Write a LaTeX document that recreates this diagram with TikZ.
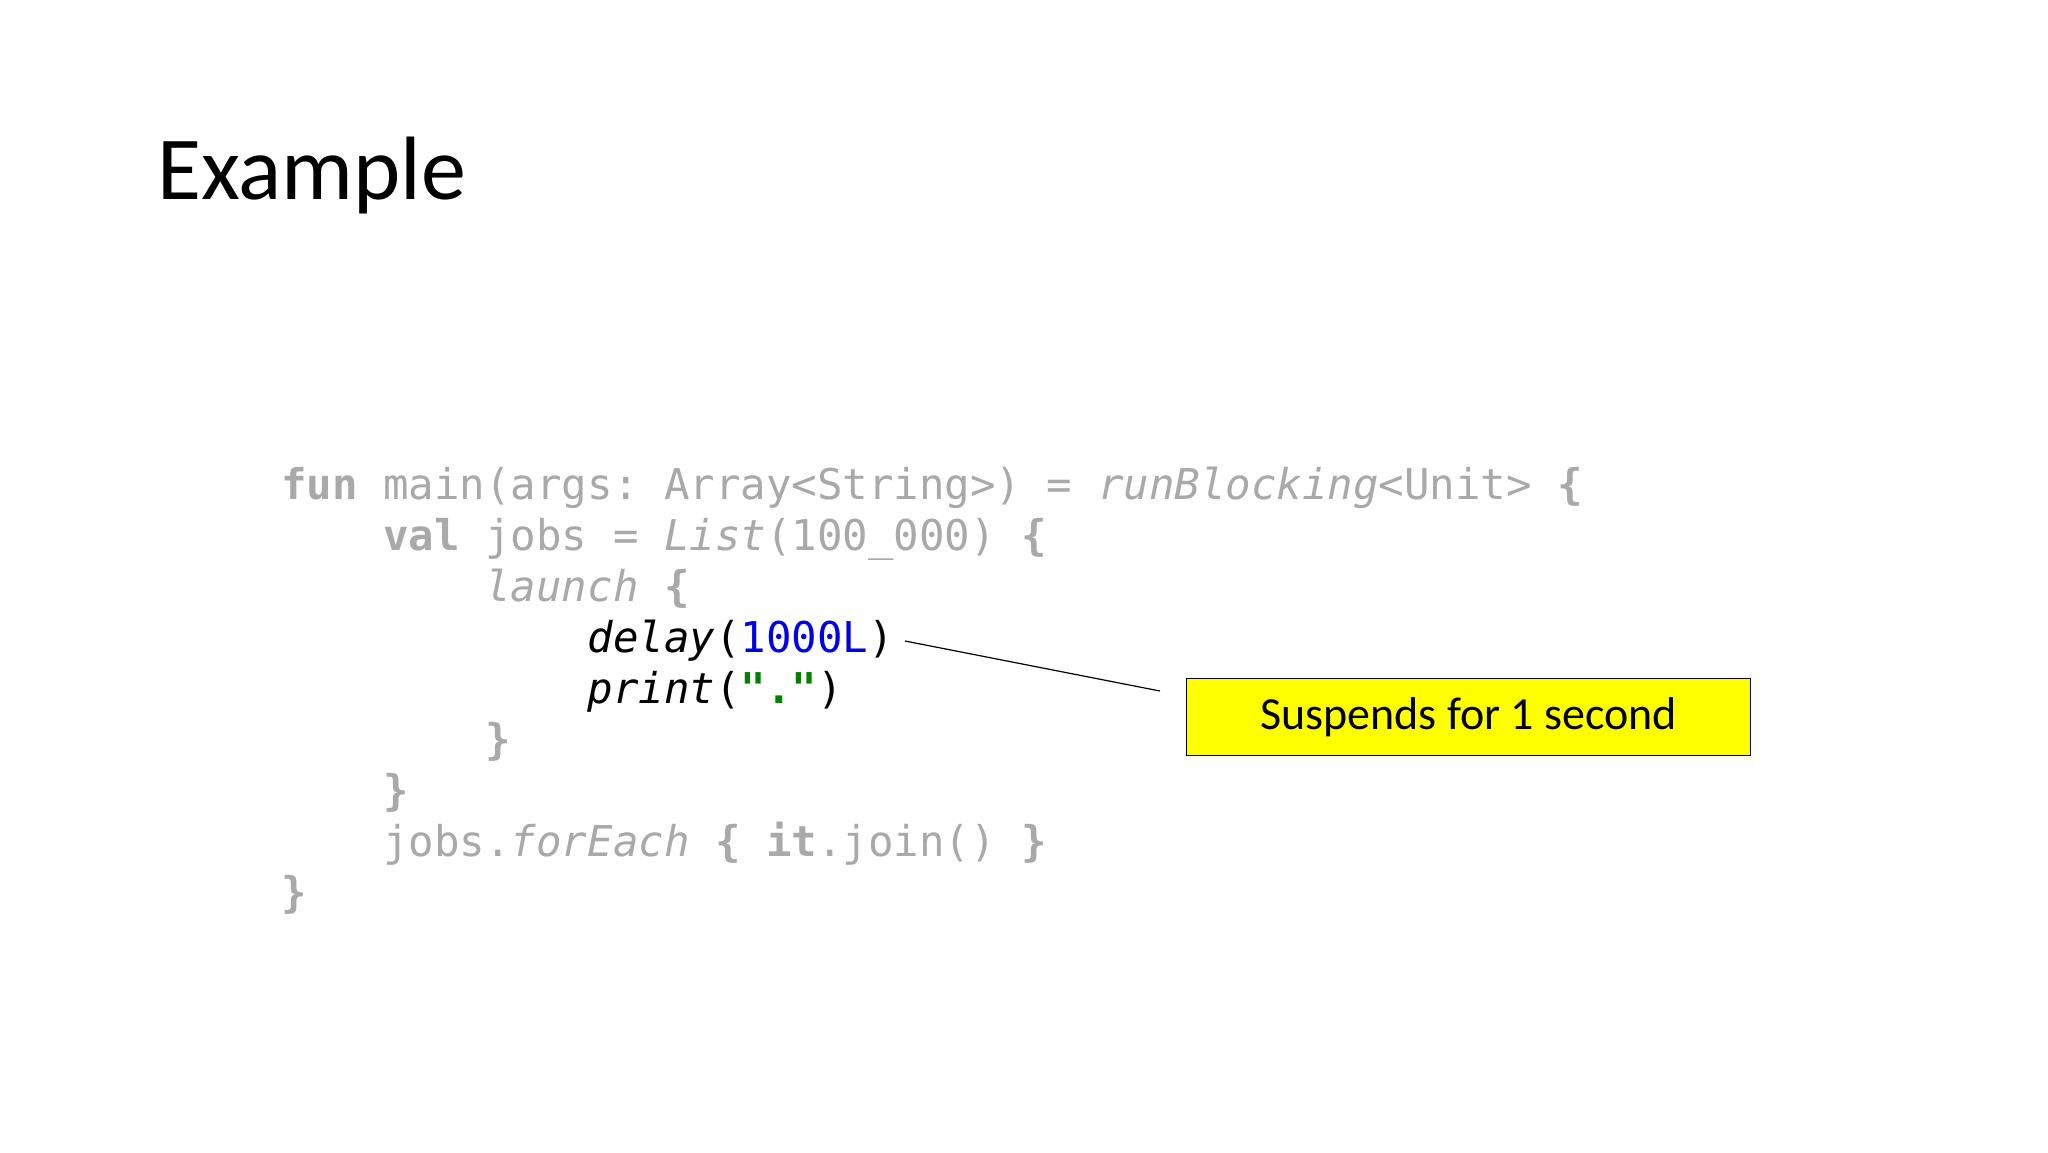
\documentclass[tikz,border=0pt]{standalone}
\usepackage{fontspec}
\setmainfont{Carlito}
\setmonofont{DejaVu Sans Mono}
\definecolor{cg}{HTML}{A9A9A9}
\definecolor{cb}{HTML}{0000E6}
\definecolor{cgr}{HTML}{008000}
\definecolor{cy}{HTML}{FFFF00}
\newcommand{\kw}[1]{\textbf{#1}}
\begin{document}
\begin{tikzpicture}[x=1pt,y=-1pt,
  code/.style={anchor=base west,inner sep=0pt,font=\fontsize{42.4}{50}\ttfamily,text=cg},
  callout/.style={draw=black,line width=1.3pt,fill=cy,minimum width=564pt,minimum height=77pt,font=\fontsize{46}{50}\selectfont,inner sep=0pt}]
\useasboundingbox (0,0) rectangle (2048,1152);
\fill[white] (0,0) rectangle (2048,1152);
\node[anchor=base west,inner sep=0pt,font=\fontsize{90}{100}\selectfont] (title) at (157,199) {Example};
\node[code] (l1) at (281,499) {\kw{fun} main(args: Array<String>) = \textit{runBlocking}<Unit> \kw{\{}};
\node[code] (l2) at (281,550) {\phantom{xxxx}\kw{val} jobs = \textit{List}(100\_000) \kw{\{}};
\node[code] (l3) at (281,601) {\phantom{xxxxxxxx}\textit{launch} \kw{\{}};
\node[code] (l4) at (281,652) {\phantom{xxxxxxxxxxxx}\textcolor{black}{\textit{delay}(}\textcolor{cb}{1000L}\textcolor{black}{)}};
\node[code] (l5) at (281,703) {\phantom{xxxxxxxxxxxx}\textcolor{black}{\textit{print}(}\textcolor{cgr}{\kw{"."}}\textcolor{black}{)}};
\node[code] (l6) at (281,754) {\phantom{xxxxxxxx}\kw{\}}};
\node[code] (l7) at (281,805) {\phantom{xxxx}\kw{\}}};
\node[code] (l8) at (281,856) {\phantom{xxxx}jobs.\textit{forEach} \kw{\{} \kw{it}.join() \kw{\}}};
\node[code] (l9) at (281,907) {\kw{\}}};
\node[callout,anchor=north west] (box) at (1186,678) {Suspends for 1 second};
\coordinate (cs) at (905,641);
\coordinate (ce) at (1160,691);
\draw[line width=1.2pt] (cs) -- (ce);
\end{tikzpicture}
\end{document}
